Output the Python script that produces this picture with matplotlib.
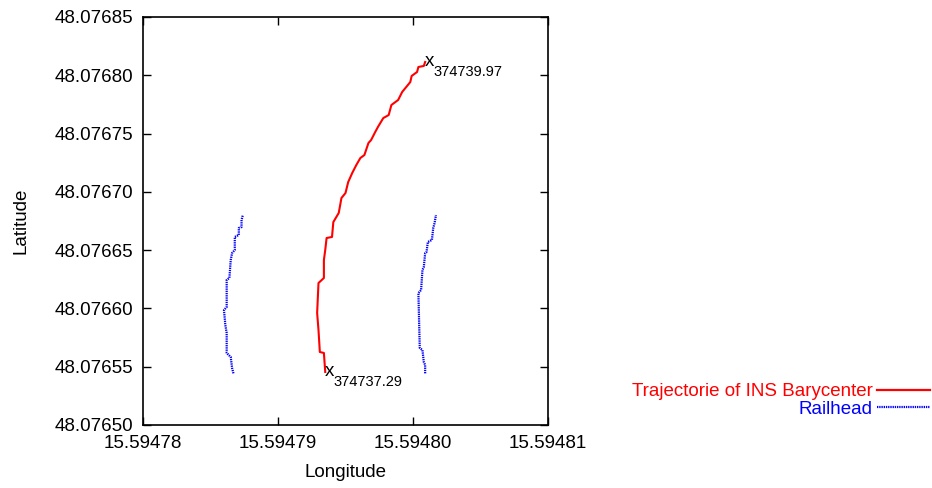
import matplotlib.pyplot as plt
from matplotlib.lines import Line2D
from matplotlib.ticker import FormatStrFormatter

plt.rcParams['font.family'] = ['Liberation Sans', 'DejaVu Sans']

# INS barycenter trajectory
traj_lon = [15.5947935, 15.5947934, 15.5947931, 15.5947930, 15.5947929, 15.5947930,
            15.5947934, 15.5947934, 15.5947935, 15.5947936, 15.5947940, 15.5947941,
            15.5947945, 15.5947947, 15.5947950, 15.5947952, 15.5947955, 15.5947958,
            15.5947961, 15.5947964, 15.5947967, 15.5947969, 15.5947972, 15.5947974,
            15.5947978, 15.5947982, 15.5947984, 15.5947989, 15.5947992, 15.5947998,
            15.5947999, 15.5948003, 15.5948004, 15.5948008, 15.5948009]
traj_lat = [48.0765455, 48.0765618, 48.0765626, 48.0765815, 48.0765961, 48.0766218,
            48.0766261, 48.0766415, 48.0766501, 48.0766604, 48.0766613, 48.0766741,
            48.0766819, 48.0766947, 48.0766990, 48.0767084, 48.0767162, 48.0767230,
            48.0767290, 48.0767316, 48.0767419, 48.0767445, 48.0767513, 48.0767556,
            48.0767633, 48.0767659, 48.0767745, 48.0767788, 48.0767857, 48.0767942,
            48.0767994, 48.0768028, 48.0768071, 48.0768080, 48.0768114]

# left railhead
rail1_lon = [15.5947867, 15.5947866, 15.5947865, 15.5947862, 15.5947862, 15.5947861,
             15.5947860, 15.5947862, 15.5947862, 15.5947864, 15.5947865, 15.5947866,
             15.5947868, 15.5947868, 15.5947871, 15.5947871, 15.5947873, 15.5947873,
             15.5947874]
rail1_lat = [48.0765443, 48.0765489, 48.0765583, 48.0765618, 48.0765789, 48.0765858,
             48.0765986, 48.0766012, 48.0766244, 48.0766261, 48.0766415, 48.0766475,
             48.0766501, 48.0766613, 48.0766630, 48.0766690, 48.0766698, 48.0766759,
             48.0766801]

# right railhead
rail2_lon = [15.5948009, 15.5948009, 15.5948008, 15.5948007, 15.5948005, 15.5948004,
             15.5948006, 15.5948007, 15.5948008, 15.5948009, 15.5948010, 15.5948011,
             15.5948014, 15.5948015, 15.5948016, 15.5948017]
rail2_lat = [48.0765443, 48.0765515, 48.0765540, 48.0765643, 48.0765661, 48.0766132,
             48.0766158, 48.0766330, 48.0766355, 48.0766475, 48.0766484, 48.0766570,
             48.0766587, 48.0766690, 48.0766733, 48.0766801]

start_label = '374737.29'
end_label = '374739.97'

fs = 13.5

fig = plt.figure(figsize=(9.32, 4.88), dpi=100)
ax = fig.add_axes([0.1534, 0.1291, 0.4346, 0.8361])

railstyle = dict(color='#0000ff', lw=1.6, ls=(0, (0.6, 0.4)))
ax.plot(traj_lon, traj_lat, color='#ff0000', lw=1.5)
ax.plot(rail1_lon, rail1_lat, **railstyle)
ax.plot(rail2_lon, rail2_lat, **railstyle)

# start / end labels
for lon, lat, lab in [(traj_lon[0], traj_lat[0], start_label),
                      (traj_lon[-1], traj_lat[-1], end_label)]:
    ax.annotate('x', (lon, lat), xytext=(0, 0), textcoords='offset points',
                ha='left', va='center', fontsize=fs)
    ax.annotate(lab, (lon, lat), xytext=(6, -7), textcoords='offset points',
                ha='left', va='center', fontsize=10.5)

ax.set_xlim(15.59478, 15.59481)
ax.set_ylim(48.07650, 48.07685)
ax.set_xticks([15.59478, 15.59479, 15.59480, 15.59481])
ax.set_yticks([48.07650 + 0.00005 * i for i in range(8)])
ax.xaxis.set_major_formatter(FormatStrFormatter('%.5f'))
ax.yaxis.set_major_formatter(FormatStrFormatter('%.5f'))
ax.tick_params(direction='in', top=True, right=True, length=6, width=1,
               labelsize=fs, pad=7)
for s in ax.spines.values():
    s.set_linewidth(1.2)
ax.set_xlabel('Longitude', fontsize=fs)
ax.set_ylabel('Latitude', fontsize=fs)
ax.xaxis.set_label_coords(0.5, -0.096)
ax.yaxis.set_label_coords(-0.279, 0.5)

# key at lower right
fig.text(873 / 932, 1 - 391 / 488, 'Trajectorie of INS Barycenter', color='#ff0000',
         ha='right', va='center', fontsize=fs)
fig.text(873 / 932, 1 - 409 / 488, 'Railhead', color='#0000ff',
         ha='right', va='center', fontsize=fs)
fig.add_artist(Line2D([877 / 932, 930 / 932], [1 - 390 / 488, 1 - 390 / 488],
                      color='#ff0000', lw=1.6, transform=fig.transFigure))
fig.add_artist(Line2D([877 / 932, 930 / 932], [1 - 407 / 488, 1 - 407 / 488],
                      transform=fig.transFigure, **railstyle))

fig.savefig('out.png', dpi=100)
